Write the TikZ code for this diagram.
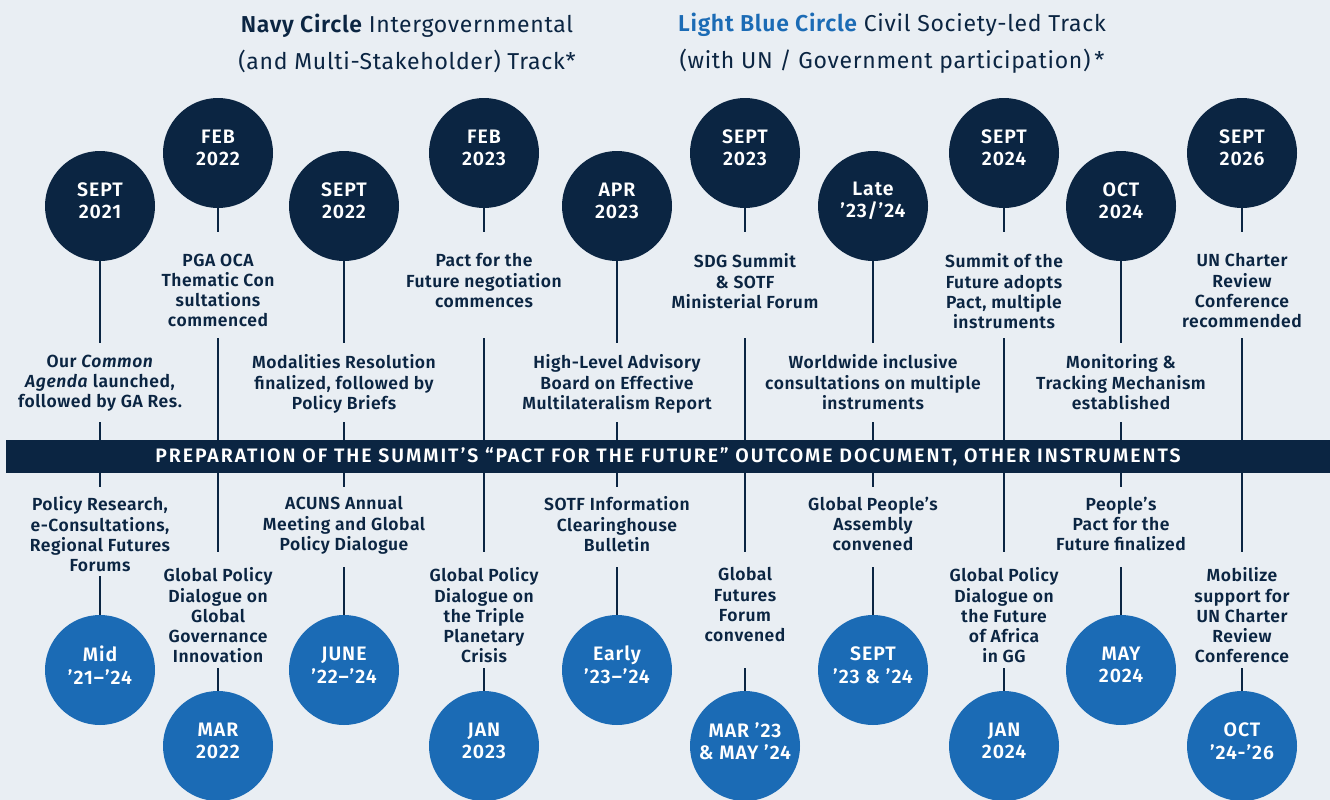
\documentclass[tikz,border=0pt]{standalone}
\usepackage{fontspec}
\setmainfont{Fira Sans}[BoldFont={Fira Sans SemiBold},BoldItalicFont={Fira Sans SemiBold Italic},LetterSpace=3]
\definecolor{navy}{HTML}{0B2542}
\definecolor{lblue}{HTML}{1B6BB5}
\definecolor{bgc}{HTML}{E9EEF3}
\begin{document}
\begin{tikzpicture}[x=1pt,y=-1pt,
  conn/.style={draw=navy,line width=2.3pt},
  navyc/.style={circle,fill=navy,minimum size=110pt,inner sep=0pt},
  bluec/.style={circle,fill=lblue,minimum size=110pt,inner sep=0pt},
  datet/.style={text=white,font=\bfseries\fontsize{19.5}{22.5}\selectfont\addfontfeature{LetterSpace=5},align=center,inner sep=0pt},
  lab/.style={text=navy,font=\bfseries\fontsize{17.5}{20.25}\selectfont,align=center,inner sep=0pt,anchor=north,execute at begin node=\strut},
  ttl/.style={text=navy,font=\fontsize{23}{37}\selectfont,align=center,inner sep=0pt},
]
\fill[bgc] (0,0) rectangle (1330,800);
\useasboundingbox (0,0) rectangle (1330,800);

% titles
\node[ttl] (title1) at (407,43.5) {{\bfseries Navy Circle} Intergovernmental\\(and Multi-Stakeholder) Track*};
\node[ttl] (title2) at (892,43.5) {{\bfseries\color{lblue}Light Blue Circle} Civil Society-led Track\\(with UN / Government participation)\,*};

% band
\node[fill=navy,minimum width=1324pt,minimum height=33pt,inner sep=0pt,text=white,font=\bfseries\fontsize{19.5}{20}\selectfont\addfontfeature{LetterSpace=10}] (band) at (668,456.5) {PREPARATION OF THE SUMMIT’S “PACT FOR THE FUTURE” OUTCOME DOCUMENT, OTHER INSTRUMENTS};

% top circles
\node[navyc] (tc1) at (100,206) {};
\node[navyc] (tc2) at (218,153) {};
\node[navyc] (tc3) at (344,206) {};
\node[navyc] (tc4) at (484,153) {};
\node[navyc] (tc5) at (617,206) {};
\node[navyc] (tc6) at (745,153) {};
\node[navyc] (tc7) at (873,206) {};
\node[navyc] (tc8) at (1004,153) {};
\node[navyc] (tc9) at (1121,206) {};
\node[navyc] (tc10) at (1242,153) {};
\node[datet] (td1) at ([yshift=5pt]tc1.center) {SEPT\\2021};
\node[datet] (td2) at ([yshift=5pt]tc2.center) {FEB\\2022};
\node[datet] (td3) at ([yshift=5pt]tc3.center) {SEPT\\2022};
\node[datet] (td4) at ([yshift=5pt]tc4.center) {FEB\\2023};
\node[datet] (td5) at ([yshift=5pt]tc5.center) {APR\\2023};
\node[datet] (td6) at ([yshift=5pt]tc6.center) {SEPT\\2023};
\node[datet] (td7) at ([yshift=5pt]tc7.center) {Late\\’23/’24};
\node[datet] (td8) at ([yshift=5pt]tc8.center) {SEPT\\2024};
\node[datet] (td9) at ([yshift=5pt]tc9.center) {OCT\\2024};
\node[datet] (td10) at ([yshift=5pt]tc10.center) {SEPT\\2026};

% bottom circles
\node[bluec] (bc1) at (100,670) {};
\node[bluec] (bc2) at (218,746) {};
\node[bluec] (bc3) at (344,670) {};
\node[bluec] (bc4) at (484,746) {};
\node[bluec] (bc5) at (617,670) {};
\node[bluec] (bc6) at (745,746) {};
\node[bluec] (bc7) at (873,670) {};
\node[bluec] (bc8) at (1004,746) {};
\node[bluec] (bc9) at (1121,670) {};
\node[bluec] (bc10) at (1242,746) {};
\node[datet] (bd1) at ([yshift=5pt]bc1.center) {Mid\\’21–’24};
\node[datet] (bd2) at ([yshift=5pt]bc2.center) {MAR\\2022};
\node[datet] (bd3) at ([yshift=5pt]bc3.center) {JUNE\\’22–’24};
\node[datet] (bd4) at ([yshift=5pt]bc4.center) {JAN\\2023};
\node[datet] (bd5) at ([yshift=5pt]bc5.center) {Early\\’23–’24};
\node[datet] (bd6) at ([yshift=5pt]bc6.center) {MAR ’23\\\& MAY ’24};
\node[datet] (bd7) at ([yshift=5pt]bc7.center) {SEPT\\’23 \& ’24};
\node[datet] (bd8) at ([yshift=5pt]bc8.center) {JAN\\2024};
\node[datet] (bd9) at ([yshift=5pt]bc9.center) {MAY\\2024};
\node[datet] (bd10) at ([yshift=5pt]bc10.center) {OCT\\’24-’26};

% upper labels
\node[lab] (ut1) at (100,354.5) {Our \textit{Common}\\\textit{Agenda} launched,\\followed by GA Res.};
\node[lab] (ut2) at (218,253.5) {PGA OCA\\Thematic Con\\sultations\\commenced};
\node[lab] (ut3) at (344,354.5) {Modalities Resolution\\finalized, followed by\\Policy Briefs};
\node[lab] (ut4) at (484,253.5) {Pact for the\\Future negotiation\\commences};
\node[lab] (ut5) at (617,354.5) {High-Level Advisory\\Board on Effective\\Multilateralism Report};
\node[lab] (ut6) at (745,253.5) {SDG Summit\\\& SOTF\\Ministerial Forum};
\node[lab] (ut7) at (873,354.5) {Worldwide inclusive\\consultations on multiple\\instruments};
\node[lab] (ut8) at (1004,253.5) {Summit of the\\Future adopts\\Pact, multiple\\instruments};
\node[lab] (ut9) at (1121,354.5) {Monitoring \&\\Tracking Mechanism\\established};
\node[lab] (ut10) at (1242,253.5) {UN Charter\\Review\\Conference\\recommended};

% lower labels
\node[lab] (lt1) at (100,496.5) {Policy Research,\\e-Consultations,\\Regional Futures\\Forums};
\node[lab] (lt2) at (218,567.5) {Global Policy\\Dialogue on\\Global\\Governance\\Innovation};
\node[lab] (lt3) at (344,496.5) {ACUNS Annual\\Meeting and Global\\Policy Dialogue};
\node[lab] (lt4) at (484,567.5) {Global Policy\\Dialogue on\\the Triple\\Planetary\\Crisis};
\node[lab] (lt5) at (617,496.5) {SOTF Information\\Clearinghouse\\Bulletin};
\node[lab] (lt6) at (745,567.5) {Global\\Futures\\Forum\\convened};
\node[lab] (lt7) at (873,496.5) {Global People’s\\Assembly\\convened};
\node[lab] (lt8) at (1004,567.5) {Global Policy\\Dialogue on\\the Future\\of Africa\\in GG};
\node[lab] (lt9) at (1121,496.5) {People’s\\Pact for the\\Future finalized};
\node[lab] (lt10) at (1242,567.5) {Mobilize\\support for\\UN Charter\\Review\\Conference};

% connectors, odd columns
\foreach \i/\x/\r in {1/100/576,3/344/567,5/617/567,7/873/567,9/1121/567}{
  \coordinate (ka\i) at (\x,343);
  \coordinate (kb\i) at (\x,422);
  \coordinate (kc\i) at (\x,487);
  \coordinate (kd\i) at (\x,\r);
  \draw[conn] (tc\i.south) -- (ka\i);
  \draw[conn] (kb\i) -- (kb\i |- band.north);
  \draw[conn] (kc\i |- band.south) -- (kc\i);
  \draw[conn] (kd\i) -- (bc\i.north);
}
% connectors, even columns
\foreach \i/\x in {2/218,4/484,6/745,8/1004,10/1242}{
  \coordinate (ka\i) at (\x,232);
  \coordinate (kb\i) at (\x,338);
  \coordinate (kc\i) at (\x,552);
  \coordinate (kd\i) at (\x,668);
  \draw[conn] (tc\i.south) -- (ka\i);
  \draw[conn] (kb\i) -- (kb\i |- band.north);
  \draw[conn] (kc\i |- band.south) -- (kc\i);
  \draw[conn] (kd\i) -- (bc\i.north);
}
\end{tikzpicture}
\end{document}
